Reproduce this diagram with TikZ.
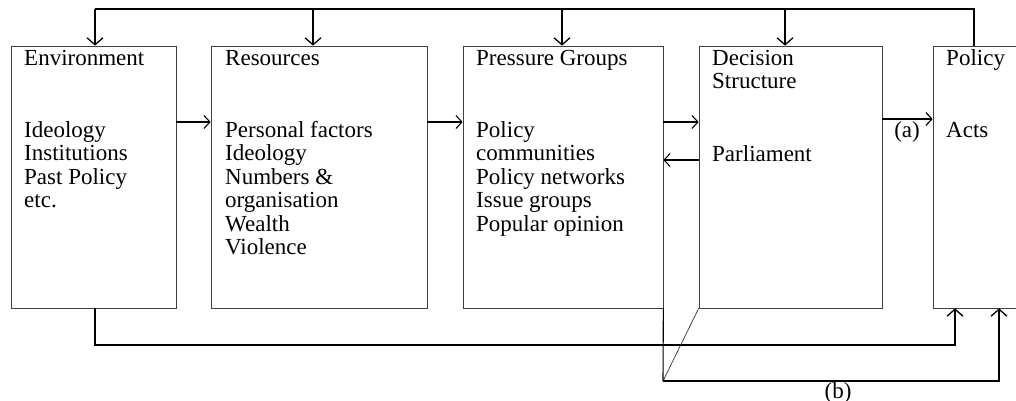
\documentclass[tikz,border=0pt]{standalone}
\usepackage{fontspec}
\setmainfont{Liberation Serif}
\usetikzlibrary{arrows.meta}
\tikzset{
  box/.style={draw=black!75, line width=0.7pt, rectangle, inner sep=0pt},
  lbl/.style={anchor=base west, inner sep=0pt, align=left, font=\fontsize{23}{23.5}\selectfont},
  conn/.style={draw=black, line width=1.1pt},
  thin/.style={draw=black!80, line width=0.7pt},
  arr/.style={conn, -{Straight Barb[length=6pt,width=13pt,line width=1.1pt]}},
  bigarr/.style={conn, -{Straight Barb[length=7pt,width=16pt,line width=1.3pt]}},
}
\begin{document}
\begin{tikzpicture}[x=1pt,y=-1pt]
\useasboundingbox[fill=white] (0,0) rectangle (1016,401);
\clip (0,0) rectangle (1016,401);
% boxes
\node[box, minimum width=165pt, minimum height=262pt] (env) at (93.5,177) {};
\node[box, minimum width=216pt, minimum height=262pt] (res) at (319,177) {};
\node[box, minimum width=200pt, minimum height=262pt] (pg) at (563,177) {};
\node[box, minimum width=183pt, minimum height=262pt] (ds) at (790.5,177) {};
\node[box, minimum width=120pt, minimum height=262pt] (pol) at (993,177) {};
% texts (multi-line nodes are placed at the baseline of their last line)
\node[lbl] (envT) at (24,66) {Environment};
\node[lbl] (envB) at (24,207.5) {Ideology\\Institutions\\Past Policy\\etc.};
\node[lbl] (resT) at (225,66) {Resources};
\node[lbl] (resB) at (225,254.5) {Personal factors\\Ideology\\Numbers \&\\organisation\\Wealth\\Violence};
\node[lbl] (pgT) at (476,66) {Pressure Groups};
\node[lbl] (pgB) at (476,231) {Policy\\communities\\Policy networks\\Issue groups\\Popular opinion};
\node[lbl] (dsT) at (712,89) {Decision\\Structure};
\node[lbl] (dsB) at (712,161) {Parliament};
\node[lbl] (polT) at (946,66) {Policy};
\node[lbl] (polB) at (946,137) {Acts};
\node[lbl, anchor=base] (la) at (907,137) {(a)};
\node[lbl, anchor=base] (lb) at (838,398) {(b)};
% level coordinates
\coordinate (y1) at (0,122);
\coordinate (y2) at (0,160);
\coordinate (y3) at (0,119);
% horizontal arrows
\draw[arr] (env.east |- y1) -- (res.west |- y1);
\draw[arr] (res.east |- y1) -- (pg.west |- y1);
\draw[arr] (pg.east |- y1) -- (ds.west |- y1);
\draw[arr] (ds.west |- y2) -- (pg.east |- y2);
\draw[arr] (ds.east |- y3) -- (pol.west |- y3);
% top feedback
\coordinate (t0) at (95,9);
\coordinate (t1) at (313,9);
\coordinate (t2) at (562,9);
\coordinate (t3) at (785,9);
\coordinate (t4) at (974,9);
\draw[conn] (t4 |- pol.north) -- (t4) -- (t0);
\draw[bigarr] (t0) -- (t0 |- env.north);
\draw[bigarr] (t1) -- (t1 |- res.north);
\draw[bigarr] (t2) -- (t2 |- pg.north);
\draw[bigarr] (t3) -- (t3 |- ds.north);
% bottom
\coordinate (b1) at (95,345);
\coordinate (b1e) at (955,345);
\draw[bigarr] (b1 |- env.south) -- (b1) -- (b1e) -- (b1e |- pol.south);
\coordinate (b2) at (663,381);
\coordinate (b2e) at (999,381);
\draw[conn] (pg.south east) -- (b2);
\draw[thin] (ds.south west) -- (b2);
\draw[bigarr] (b2) -- (b2e) -- (b2e |- pol.south);
\end{tikzpicture}
\end{document}
